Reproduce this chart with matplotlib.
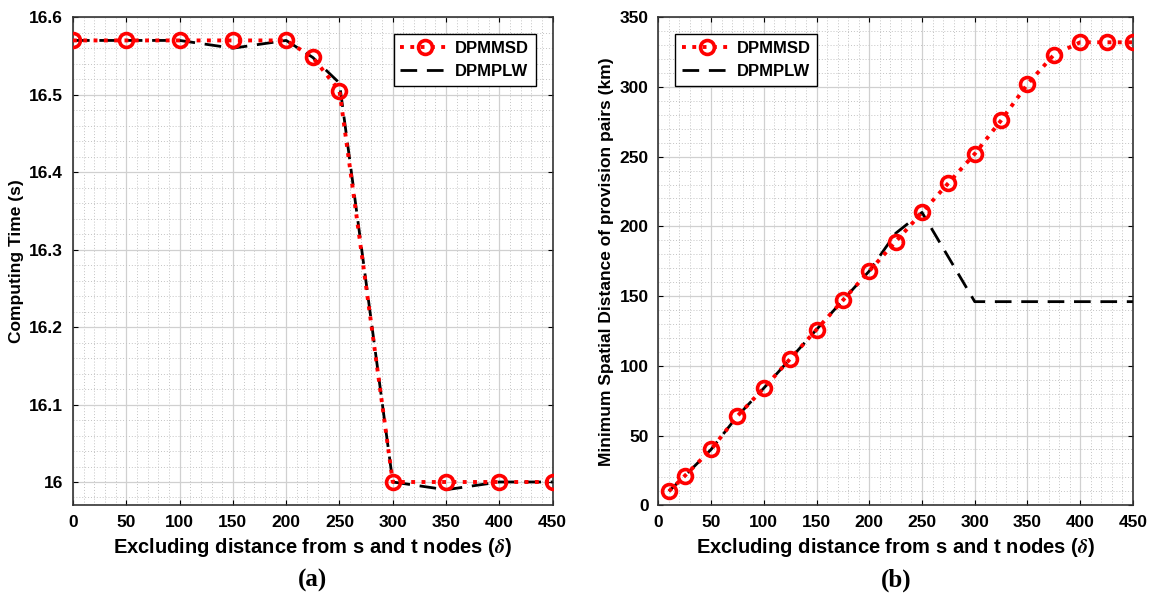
import matplotlib.pyplot as plt
import numpy as np
from matplotlib.ticker import MultipleLocator

plt.rcParams['font.family'] = ['Liberation Sans', 'DejaVu Sans']
plt.rcParams['font.weight'] = 'bold'
plt.rcParams['mathtext.fontset'] = 'stix'

# panel (a) - computing time
xa = [0, 50, 100, 150, 200, 225, 250, 300, 350, 400, 450]
msd_a = [16.57, 16.57, 16.57, 16.57, 16.57, 16.548, 16.505, 16.0, 16.0, 16.0, 16.0]
plw_a = [16.57, 16.57, 16.57, 16.56, 16.57, 16.548, 16.515, 16.0, 15.99, 16.0, 16.0]

# panel (b) - minimum spatial distance
xb = [10, 25, 50, 75, 100, 125, 150, 175, 200, 225, 250, 275, 300, 325, 350, 375, 400, 425, 450]
msd_b = [10, 21, 40, 64, 84, 105, 126, 147, 168, 189, 210, 231, 252, 276, 302, 323, 332, 332, 332]
xb_plw = [10, 25, 50, 75, 100, 125, 150, 175, 200, 225, 250, 300, 350, 400, 450]
plw_b = [10, 21, 40, 64, 84, 105, 126, 147, 168, 195, 210, 146, 146, 146, 146]

xlab = r'Excluding distance from s and t nodes ($\delta$)'

fig = plt.figure(figsize=(11.49, 5.93), dpi=100)
ax1 = fig.add_axes([0.0635, 0.148, 0.4175, 0.823])
ax2 = fig.add_axes([0.573, 0.148, 0.413, 0.823])


def style(ax):
    ax.grid(which='major', color='#d0d0d0', linewidth=0.9)
    ax.grid(which='minor', color='#c4c4c4', linestyle=(0, (1, 2)), linewidth=0.7)
    ax.set_axisbelow(True)
    ax.tick_params(which='both', direction='in', top=True, right=True, labelsize=12.5, pad=7)
    ax.tick_params(which='minor', length=0)
    for s in ax.spines.values():
        s.set_color('#333333')
        s.set_linewidth(1.2)
    for lb in ax.get_xticklabels() + ax.get_yticklabels():
        lb.set_fontweight('bold')


# (a)
ax1.plot(xa, plw_a, color='black', linestyle=(0, (6, 3.5)), linewidth=2, label='DPMPLW', zorder=3)
ax1.plot(xa, msd_a, color='red', linestyle=':', linewidth=2.8, marker='o', markersize=10,
         markerfacecolor='none', markeredgewidth=2.6, label='DPMMSD', zorder=4)
ax1.set_xlim(0, 450)
ax1.set_ylim(15.97, 16.6)
ax1.xaxis.set_major_locator(MultipleLocator(50))
ax1.xaxis.set_minor_locator(MultipleLocator(10))
ax1.yaxis.set_minor_locator(MultipleLocator(0.02))
ax1.set_yticks([16, 16.1, 16.2, 16.3, 16.4, 16.5, 16.6])
ax1.set_yticklabels(['16', '16.1', '16.2', '16.3', '16.4', '16.5', '16.6'])
ax1.set_xlabel(xlab, fontsize=14.5, fontweight='bold', labelpad=4)
ax1.set_ylabel('Computing Time (s)', fontsize=12.5, fontweight='bold', labelpad=4)
h, l = ax1.get_legend_handles_labels()
ax1.legend(h[::-1], l[::-1], loc='upper right', fontsize=12, frameon=True, fancybox=False,
           edgecolor='black', framealpha=1, handlelength=3.0, handletextpad=0.3,
           borderaxespad=1.0)
style(ax1)

# (b)
ax2.plot(xb_plw, plw_b, color='black', linestyle=(0, (6, 3.5)), linewidth=2, label='DPMPLW', zorder=3)
ax2.plot(xb, msd_b, color='red', linestyle=':', linewidth=2.8, marker='o', markersize=10,
         markerfacecolor='none', markeredgewidth=2.6, label='DPMMSD', zorder=4)
ax2.set_xlim(0, 450)
ax2.set_ylim(0, 350)
ax2.xaxis.set_major_locator(MultipleLocator(50))
ax2.xaxis.set_minor_locator(MultipleLocator(10))
ax2.yaxis.set_major_locator(MultipleLocator(50))
ax2.yaxis.set_minor_locator(MultipleLocator(10))
ax2.set_xlabel(xlab, fontsize=14.5, fontweight='bold', labelpad=4)
ax2.set_ylabel('Minimum Spatial Distance of provision pairs (km)', fontsize=12.5, fontweight='bold')
h, l = ax2.get_legend_handles_labels()
ax2.legend(h[::-1], l[::-1], loc='upper left', fontsize=12, frameon=True, fancybox=False,
           edgecolor='black', framealpha=1, handlelength=3.0, handletextpad=0.3,
           borderaxespad=1.0)
style(ax2)

fig.text(0.272, 0.01, '(a)', fontsize=18, fontweight='bold', family='Liberation Serif', ha='center')
fig.text(0.78, 0.01, '(b)', fontsize=18, fontweight='bold', family='Liberation Serif', ha='center')

fig.savefig('out.png', dpi=100)
